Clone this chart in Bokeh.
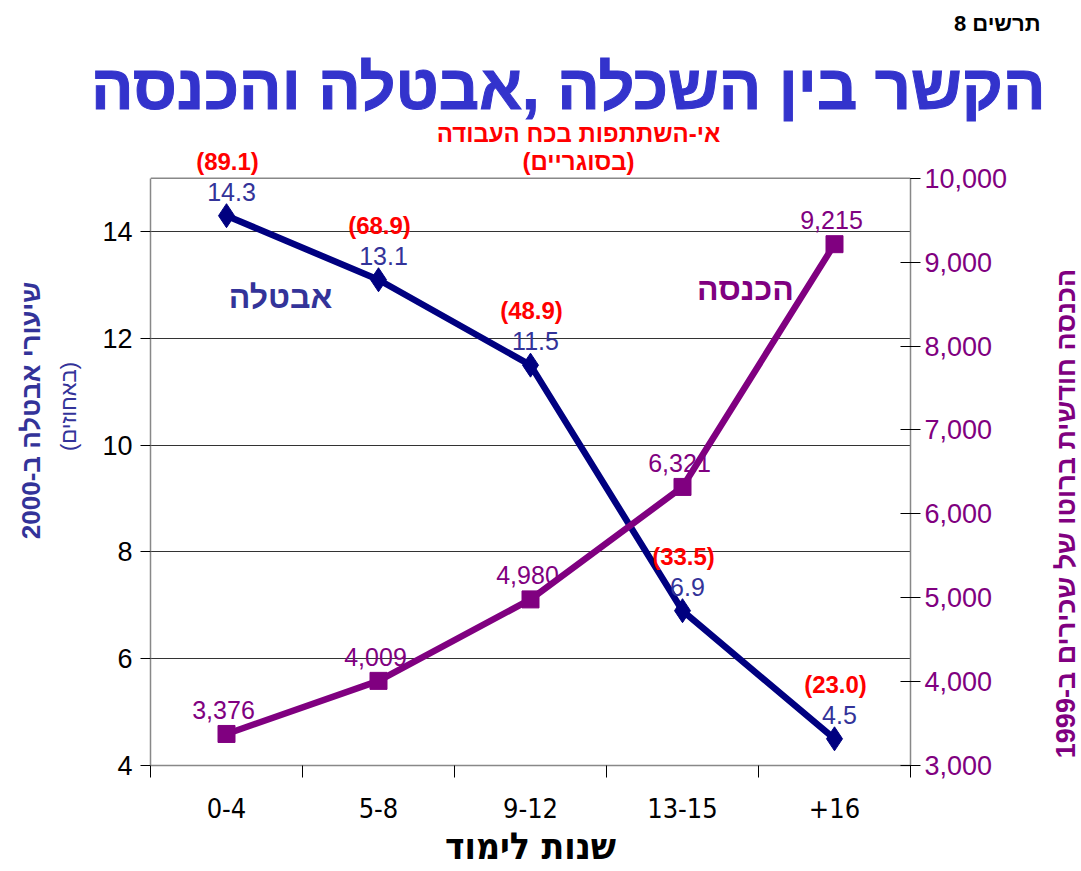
import math
from bokeh.plotting import figure
from bokeh.layouts import row
from bokeh.models import (Range1d, LinearAxis, FixedTicker, Label, LabelSet, Span, Title,
                          ColumnDataSource, NumeralTickFormatter)
from bokeh.core.properties import value
from bokeh.embed import file_html
from bokeh.resources import INLINE

categories = ["0-4", "5-8", "9-12", "13-15", "+16"]
unemployment = [14.3, 13.1, 11.5, 6.9, 4.5]
income = [3376, 4009, 4980, 6321, 9215]
nonparticipation = [89.1, 68.9, 48.9, 33.5, 23.0]
left_ticks = [4, 6, 8, 10, 12, 14]
right_ticks = [3000, 4000, 5000, 6000, 7000, 8000, 9000, 10000]
left_lim = (4, 15)
right_lim = (3000, 10000)

title_text = "הקשר בין השכלה ,אבטלה והכנסה"
chart_no = "תרשים 8"
sub1 = "אי-השתתפות בכח העבודה"
sub2 = "(בסוגריים)"
xlabel = "שנות לימוד"
ylabel_left = "שיעורי אבטלה ב-2000"
ylabel_left2 = "(באחוזים)"
ylabel_right = "הכנסה חודשית ברוטו של שכירים ב-1999"
series1_name = "אבטלה"
series2_name = "הכנסה"

NAVY = "#000080"
BLUE_TXT = "#333399"
TITLE_BLUE = "#3333CC"
PURPLE = "#800080"
RED = "#FF0000"
GRAY = "#888888"
FONT = "Liberation Sans"
NARROW = "DejaVu Sans Condensed"

H = 870
TOP_B = 124           # frame top (window px)
BOTTOM_Y = 767        # bottom of chart area (window px)
BOTTOM_B = H - BOTTOM_Y
PLOT_H = 589          # height of the bordered chart area
FRAME_H = BOTTOM_Y - TOP_B
head = FRAME_H / PLOT_H
LEFT_W = 92
RIGHT_W = 30
FRAME_L, FRAME_R = 150, 910
P_RIGHT_B = 140

xs = list(range(len(categories)))


def slab(fig, text, x, y, size, color, bold=True, align="center", angle=0.0):
    fig.add_layout(Label(x=x, y=y, x_units="screen", y_units="screen", text=text,
                         text_align=align, text_baseline="middle", angle=angle,
                         text_font=FONT, text_font_size=size,
                         text_font_style="bold" if bold else "normal",
                         text_color=color))


def side_fig(width):
    f = figure(width=width, height=H, x_range=Range1d(0, 1), y_range=Range1d(0, 1),
               x_axis_type=None, y_axis_type=None, output_backend="svg",
               toolbar_location=None, min_border_left=0, min_border_right=0,
               min_border_top=TOP_B, min_border_bottom=BOTTOM_B)
    f.outline_line_color = None
    f.grid.visible = False
    return f


# ---------------- left side labels ----------------
left = side_fig(LEFT_W)
slab(left, ylabel_left, 30, BOTTOM_Y - 412, "26px", BLUE_TXT, angle=math.pi / 2)
slab(left, ylabel_left2, 68, BOTTOM_Y - 408, "22px", BLUE_TXT, bold=False, angle=math.pi / 2)

# ---------------- main chart ----------------
p = figure(width=FRAME_R + P_RIGHT_B - LEFT_W, height=H,
           x_range=Range1d(-0.5, len(categories) - 0.5),
           y_range=Range1d(left_lim[0], left_lim[0] + (left_lim[1] - left_lim[0]) * head),
           output_backend="svg", toolbar_location=None,
           min_border_left=FRAME_L - LEFT_W, min_border_right=P_RIGHT_B,
           min_border_top=TOP_B, min_border_bottom=BOTTOM_B)
p.extra_y_ranges = {"inc": Range1d(right_lim[0],
                                   right_lim[0] + (right_lim[1] - right_lim[0]) * head)}
p.outline_line_color = None

# titles above the frame (first added sits closest to the frame)
main_title = Title(text=title_text, align="right", offset=-135, standoff=6,
                   vertical_align="bottom", text_font=FONT, text_font_size="63px",
                   text_font_style="bold", text_color=TITLE_BLUE)
if "text_outline_color" in main_title.properties():
    main_title.text_outline_color = TITLE_BLUE
p.add_layout(main_title, "above")
p.add_layout(Title(text=chart_no, align="right", offset=-130, standoff=17,
                   vertical_align="top", text_font=FONT, text_font_size="22px",
                   text_font_style="bold", text_color="black"), "above")

# left axis
ya = p.yaxis[0]
ya.ticker = FixedTicker(ticks=left_ticks)
ya.bounds = left_lim
ya.major_tick_in = 0
ya.major_tick_out = 10
ya.minor_tick_line_color = None
ya.axis_line_color = GRAY
ya.axis_line_width = 1.5
ya.major_tick_line_color = "black"
ya.major_label_text_font = FONT
ya.major_label_text_font_size = "27px"
ya.major_label_text_color = "black"
ya.major_label_standoff = 8

# right axis
ra = LinearAxis(y_range_name="inc", ticker=FixedTicker(ticks=right_ticks),
                formatter=NumeralTickFormatter(format="0,0"), bounds=right_lim)
ra.major_tick_in = 10
ra.major_tick_out = 10
ra.minor_tick_line_color = None
ra.axis_line_color = GRAY
ra.axis_line_width = 1.5
ra.major_tick_line_color = "black"
ra.major_label_text_font = FONT
ra.major_label_text_font_size = "27px"
ra.major_label_text_color = PURPLE
ra.major_label_standoff = 4
p.add_layout(ra, "right")

# bottom axis
xa = p.xaxis[0]
xa.ticker = FixedTicker(ticks=xs, minor_ticks=[i - 0.5 for i in range(len(categories) + 1)])
xa.major_label_overrides = {i: c for i, c in enumerate(categories)}
xa.major_tick_in = 0
xa.major_tick_out = 0
xa.minor_tick_in = 0
xa.minor_tick_out = 12
xa.minor_tick_line_color = "black"
xa.axis_line_color = GRAY
xa.axis_line_width = 1.5
xa.major_label_text_font = NARROW
xa.major_label_text_font_size = "27px"
xa.major_label_text_color = "black"
xa.major_label_standoff = 20
xa.axis_label = xlabel
xa.axis_label_text_font = NARROW
xa.axis_label_text_font_size = "37px"
xa.axis_label_text_font_style = "bold"
xa.axis_label_text_color = "black"
xa.axis_label_standoff = 4

p.xgrid.grid_line_color = None
p.ygrid.grid_line_color = "#333333"
p.ygrid.grid_line_width = 1
p.add_layout(Span(location=left_lim[1], dimension="width", line_color=GRAY, line_width=1.5))

# series
src1 = ColumnDataSource(dict(x=xs, y=unemployment,
                             lab=[f"{v:.1f}" for v in unemployment],
                             np_lab=[f"({v:.1f})" for v in nonparticipation]))
src2 = ColumnDataSource(dict(x=xs, y=income, lab=[f"{v:,}" for v in income]))

p.line("x", "y", source=src1, line_color=NAVY, line_width=6.5)
p.scatter("x", "y", source=src1, marker="diamond", size=24, color=NAVY)
p.line("x", "y", source=src2, y_range_name="inc", line_color=PURPLE, line_width=6.5)
p.scatter("x", "y", source=src2, y_range_name="inc", marker="square", size=17, color=PURPLE)

p.add_layout(LabelSet(x="x", y="y", text="lab", source=src1, text_align="center",
                      text_baseline="bottom", y_offset=15, x_offset=5,
                      text_font=value(FONT), text_font_size="25px", text_color=BLUE_TXT))
p.add_layout(LabelSet(x="x", y="y", text="np_lab", source=src1, text_align="center",
                      text_baseline="bottom", y_offset=41, x_offset=1,
                      text_font=value(FONT), text_font_size="24px",
                      text_font_style="bold", text_color=RED))
p.add_layout(LabelSet(x="x", y="y", text="lab", source=src2, y_range_name="inc",
                      text_align="center", text_baseline="bottom", y_offset=15,
                      x_offset=-3, text_font=value(FONT), text_font_size="25px",
                      text_color=PURPLE))

slab(p, sub1, 578 - FRAME_L, BOTTOM_Y - 135, "24px", RED)
slab(p, sub2, 578 - FRAME_L, BOTTOM_Y - 163, "24px", RED)
slab(p, series1_name, 280 - FRAME_L, BOTTOM_Y - 298, "32px", BLUE_TXT)
slab(p, series2_name, 745 - FRAME_L, BOTTOM_Y - 290, "32px", PURPLE)

# ---------------- right side label ----------------
right = side_fig(RIGHT_W)
slab(right, ylabel_right, 1065 - (FRAME_R + P_RIGHT_B), BOTTOM_Y - 515, "27px", PURPLE,
     angle=math.pi / 2)

layout = row(left, p, right, spacing=0)
open("out.html", "w").write(file_html(layout, INLINE))
